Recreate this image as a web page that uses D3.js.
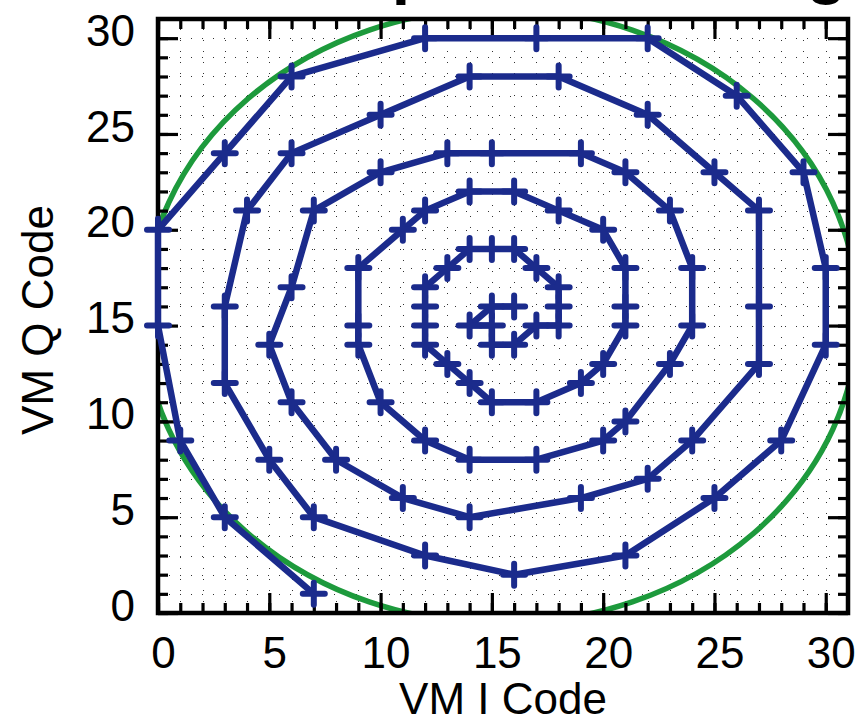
<!DOCTYPE html>
<html>
<head>
<meta charset="utf-8">
<script src="https://cdn.jsdelivr.net/npm/d3@7"></script>
<style>
  html, body { margin: 0; padding: 0; background: #fff; }
  svg { display: block; }
  text { font-family: "Liberation Sans", Arial, Helvetica, sans-serif; }
</style>
</head>
<body>
<svg id="chart" width="868" height="720"></svg>
<script>
// VM I / Q code sequence, spiralling inward
const iCode = [7, 3, 1, 0, 0, 3, 6, 12, 17, 22, 26, 29, 30, 30, 28, 25, 21, 16,
  12, 7, 5, 3, 3, 4, 6, 10, 14, 18, 22, 25, 27, 27, 27, 24, 22, 19, 14,
  11, 8, 6, 5, 6, 7, 10, 13, 15, 19, 21, 23, 24, 24, 23, 21, 20, 17, 14,
  12, 10, 9, 9, 9, 11, 12, 14, 16, 18, 20, 21, 21, 21, 20, 19, 17, 15,
  14, 13, 12, 12, 12, 12, 13, 14, 15, 16, 17, 18, 18, 18, 17, 16, 15, 15, 14, 15, 16];
const qCode = [1, 5, 9, 15, 20, 24, 28, 30, 30, 30, 27, 23, 18, 14, 9, 6, 3, 2,
  3, 5, 8, 12, 16, 21, 24, 26, 28, 28, 26, 23, 21, 16, 13, 9, 7, 6, 5,
  6, 8, 11, 14, 17, 21, 23, 24, 24, 24, 23, 21, 18, 15, 13, 10, 9, 8, 8,
  9, 11, 14, 15, 18, 20, 21, 22, 22, 21, 20, 18, 16, 15, 13, 12, 11, 11,
  12, 13, 14, 15, 16, 17, 18, 19, 19, 19, 18, 17, 16, 15, 15, 14, 14, 15, 15, 16, 16];

// reference circle (green)
const circleCenter = [15.4, 15.5];
const circleRadius = 16.05;

// axes
const axisMax = 31;
const majorTicks = [0, 5, 10, 15, 20, 25, 30];
const minorTicks = d3.range(0, 31);
const gridLines = d3.range(1, 31);

const titleText = 'VM Code Spiral Scanning';
const xLabel = 'VM I Code';
const yLabel = 'VM Q Code';

const svg = d3.select('#chart');
const x = d3.scaleLinear().domain([0, axisMax]).range([158, 848]);
const y = d3.scaleLinear().domain([0, axisMax]).range([613, 19]);
const [x0, x1] = x.range();
const [y0, y1] = y.range();

// title (mostly above the visible page)
svg.append('text')
  .attr('x', 47).attr('y', -9)
  .attr('font-size', 66).attr('font-weight', 'bold')
  .text(titleText);

// dotted grid, snapped to pixel centres so the dots stay crisp
const px = v => Math.round(v) + 0.5;
const grid = svg.append('g')
  .attr('stroke', '#000').attr('stroke-width', 1)
  .attr('stroke-dasharray', '1,10').attr('opacity', 0.8);
gridLines.forEach(v => {
  grid.append('line').attr('x1', px(x(v))).attr('x2', px(x(v))).attr('y1', y0).attr('y2', y1);
  grid.append('line').attr('y1', px(y(v))).attr('y2', px(y(v))).attr('x1', x0).attr('x2', x1);
});

// green circle, clipped to the axes box
svg.append('clipPath').attr('id', 'box')
  .append('rect').attr('x', x0).attr('y', y1).attr('width', x1 - x0).attr('height', y0 - y1);

svg.append('ellipse')
  .attr('clip-path', 'url(#box)')
  .attr('cx', x(circleCenter[0])).attr('cy', y(circleCenter[1]))
  .attr('rx', x(circleRadius) - x(0)).attr('ry', y(0) - y(circleRadius))
  .attr('fill', 'none').attr('stroke', '#1d9a3c').attr('stroke-width', 5.5);

// ticks on all four sides, pointing inward
function drawTicks(axisFn, scale, tf) {
  const g = svg.append('g').attr('transform', tf);
  g.call(axisFn(scale).tickValues(minorTicks).tickSize(-10).tickFormat(''));
  g.append('g').call(axisFn(scale).tickValues(majorTicks).tickSize(-20).tickFormat(''));
  g.selectAll('.domain').remove();
  g.selectAll('line').attr('stroke', '#000').attr('stroke-width', 3.2);
  return g;
}
drawTicks(d3.axisBottom, x, `translate(0,${y0})`);
drawTicks(d3.axisTop, x, `translate(0,${y1})`);
drawTicks(d3.axisLeft, y, `translate(${x0},0)`);
drawTicks(d3.axisRight, y, `translate(${x1},0)`);

// frame
svg.append('rect')
  .attr('x', x0).attr('y', y1).attr('width', x1 - x0).attr('height', y0 - y1)
  .attr('fill', 'none').attr('stroke', '#000').attr('stroke-width', 4.5);

// tick labels
const xAxis = svg.append('g').attr('transform', `translate(0,${y0})`)
  .call(d3.axisBottom(x).tickValues(majorTicks).tickSize(0).tickPadding(24));
const yAxis = svg.append('g').attr('transform', `translate(${x0},0)`)
  .call(d3.axisLeft(y).tickValues(majorTicks).tickSize(0).tickPadding(23));
[xAxis, yAxis].forEach(g => {
  g.select('.domain').remove();
  g.selectAll('text').attr('font-size', 44).attr('fill', '#000')
    .attr('font-family', '"Liberation Sans", Arial, sans-serif');
});
xAxis.selectAll('text').attr('dx', 5);
yAxis.selectAll('text').attr('dy', '0.16em');

// axis labels
svg.append('text')
  .attr('x', (x0 + x1) / 2).attr('y', 714)
  .attr('text-anchor', 'middle').attr('font-size', 44)
  .text(xLabel);
svg.append('text')
  .attr('transform', `translate(53,${(y0 + y1) / 2 + 4}) rotate(-90)`)
  .attr('text-anchor', 'middle').attr('font-size', 44)
  .text(yLabel);

// spiral path with + markers
const pts = iCode.map((v, k) => [v, qCode[k]]);
const line = d3.line().x(d => x(d[0])).y(d => y(d[1]));
const blue = '#1b2b8c';
svg.append('path')
  .attr('d', line(pts))
  .attr('fill', 'none').attr('stroke', blue).attr('stroke-width', 6.5)
  .attr('stroke-linejoin', 'round').attr('stroke-linecap', 'round');
svg.append('g').selectAll('path')
  .data(pts).join('path')
  .attr('transform', d => `translate(${x(d[0])},${y(d[1])})`)
  .attr('d', 'M-11,0H11M0,-11V11')
  .attr('stroke', blue).attr('stroke-width', 6).attr('stroke-linecap', 'round');
</script>
</body>
</html>
